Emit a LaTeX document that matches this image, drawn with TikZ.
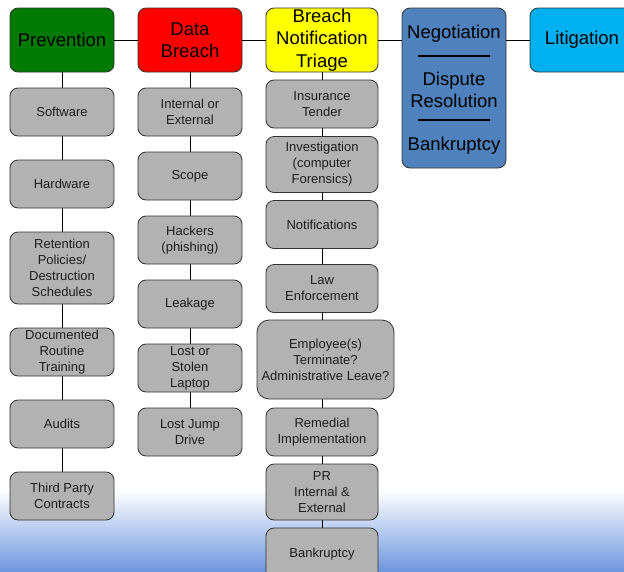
\documentclass[tikz,border=0pt]{standalone}
\usepackage{fontspec}
\setmainfont{Liberation Sans}
\definecolor{boxgray}{RGB}{178,178,178}
\definecolor{pgreen}{RGB}{0,122,0}
\definecolor{dred}{RGB}{255,0,0}
\definecolor{nyellow}{RGB}{255,255,0}
\definecolor{negblue}{RGB}{79,129,189}
\definecolor{litblue}{RGB}{0,176,240}
\definecolor{bgblue}{RGB}{110,150,222}
\definecolor{txtdark}{RGB}{30,30,30}
\begin{document}
\begin{tikzpicture}[x=1pt,y=-1pt,
  base/.style={draw=black!80, line width=0.8pt, rounded corners=8pt, align=center, inner sep=0pt},
  gbox/.style={base, fill=boxgray, text=txtdark, minimum width=104pt, font=\fontsize{13}{16}\selectfont},
  topbox/.style={base, minimum width=104pt, minimum height=64pt, font=\fontsize{18.5}{22.5}\selectfont},
  conn/.style={draw=black, line width=0.8pt},
  sep/.style={draw=black, line width=2.2pt}]
\useasboundingbox (0,0) rectangle (624,571);
% background gradient
\shade[top color=white, bottom color=bgblue] (0,490) rectangle (624,571);

% top row
\node[topbox, fill=pgreen] (prev) at (62,40) {Prevention};
\node[topbox, fill=dred] (breach) at (190,40) {Data\\Breach};
\node[topbox, fill=nyellow, minimum width=112pt] (triage) at (322,40) {Breach\\Notification\\Triage};
\node[base, fill=negblue, minimum width=104pt, minimum height=160pt] (neg) at (454,88) {};
\node[topbox, fill=litblue] (lit) at (582,40) {Litigation};

\node[font=\fontsize{18.5}{22.5}\selectfont] (negt) at (454,34) {Negotiation};
\node[font=\fontsize{18.5}{22.5}\selectfont, align=center] (dispt) at (454,90) {Dispute\\Resolution};
\node[font=\fontsize{18.5}{22.5}\selectfont] (bankt) at (454,146) {Bankruptcy};
\coordinate (s1a) at (418,56); \coordinate (s1b) at (490,56);
\coordinate (s2a) at (418,120); \coordinate (s2b) at (490,120);
\draw[sep] (s1a) -- (s1b);
\draw[sep] (s2a) -- (s2b);

% column 1
\node[gbox, minimum height=48pt] (c1a) at (62,112) {Software};
\node[gbox, minimum height=48pt] (c1b) at (62,184) {Hardware};
\node[gbox, minimum height=72pt] (c1c) at (62,268) {Retention\\Policies/\\Destruction\\Schedules};
\node[gbox, minimum height=48pt] (c1d) at (62,352) {Documented\\Routine\\Training};
\node[gbox, minimum height=48pt] (c1e) at (62,424) {Audits};
\node[gbox, minimum height=48pt] (c1f) at (62,496) {Third Party\\Contracts};

% column 2
\node[gbox, minimum height=48pt] (c2a) at (190,112) {Internal or\\External};
\node[gbox, minimum height=48pt] (c2b) at (190,176) {Scope};
\node[gbox, minimum height=48pt] (c2c) at (190,240) {Hackers\\(phishing)};
\node[gbox, minimum height=48pt] (c2d) at (190,304) {Leakage};
\node[gbox, minimum height=48pt] (c2e) at (190,368) {Lost or\\Stolen\\Laptop};
\node[gbox, minimum height=48pt] (c2f) at (190,432) {Lost Jump\\Drive};

% column 3
\node[gbox, minimum width=112pt, minimum height=48pt] (c3a) at (322,104) {Insurance\\Tender};
\node[gbox, minimum width=112pt, minimum height=56pt] (c3b) at (322,164.5) {Investigation\\(computer\\Forensics)};
\node[gbox, minimum width=112pt, minimum height=48pt] (c3c) at (322,224.5) {Notifications};
\node[gbox, minimum width=112pt, minimum height=48pt] (c3d) at (322,288.5) {Law\\Enforcement};
\node[gbox, minimum width=137pt, minimum height=79pt, rounded corners=12pt] (c3e) at (325.5,359.5) {Employee(s)\\Terminate?\\Administrative Leave?};
\node[gbox, minimum width=112pt, minimum height=48pt] (c3f) at (322,432) {Remedial\\Implementation};
\node[gbox, minimum width=112pt, minimum height=56pt] (c3g) at (322,492) {PR\\Internal \&\\External};
\node[gbox, minimum width=112pt, minimum height=52pt] (c3h) at (322,554) {Bankruptcy};

% horizontal connectors
\draw[conn] (prev) -- (breach);
\draw[conn] (breach) -- (triage);
\draw[conn] (triage.east) -- (triage.east -| neg.west);
\draw[conn] (lit.west -| neg.east) -- (lit.west);

% vertical connectors
\draw[conn] (prev) -- (c1a);
\foreach \a/\b in {c1a/c1b,c1b/c1c,c1c/c1d,c1d/c1e,c1e/c1f}{\draw[conn] (\a) -- (\b);}
\draw[conn] (breach) -- (c2a);
\foreach \a/\b in {c2a/c2b,c2b/c2c,c2c/c2d,c2d/c2e,c2e/c2f}{\draw[conn] (\a) -- (\b);}
\draw[conn] (triage) -- (c3a);
\foreach \a/\b in {c3a/c3b,c3b/c3c,c3c/c3d,c3f/c3g,c3g/c3h}{\draw[conn] (\a) -- (\b);}
\draw[conn] (c3d.south) -- (c3d.south |- c3e.north);
\draw[conn] (c3f.north |- c3e.south) -- (c3f.north);
\end{tikzpicture}
\end{document}
